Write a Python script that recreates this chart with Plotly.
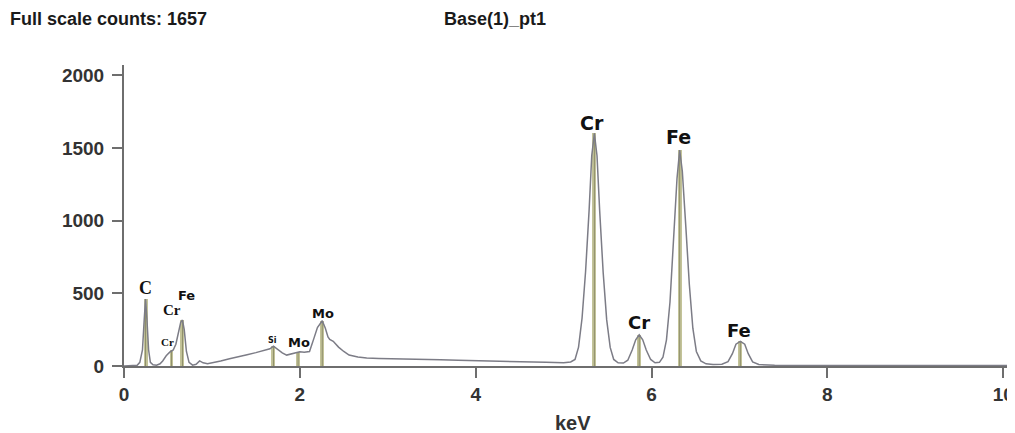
import plotly.graph_objects as go

# Spectrum (keV, counts)
energy = [0.00, 0.10, 0.15, 0.18, 0.21, 0.23, 0.245, 0.26, 0.28, 0.30, 0.33, 0.37,
          0.41, 0.44, 0.48, 0.52, 0.56, 0.59, 0.62, 0.645, 0.665, 0.685, 0.71, 0.74,
          0.78, 0.82, 0.86, 0.90, 0.95, 1.00, 1.10, 1.20, 1.30, 1.40, 1.50, 1.60,
          1.66, 1.70, 1.74, 1.80, 1.85, 1.90, 1.95, 2.00, 2.05, 2.11, 2.16, 2.20,
          2.255, 2.29, 2.32, 2.34, 2.38, 2.44, 2.50, 2.56, 2.66, 2.76, 2.90, 3.00,
          3.20, 3.40, 3.60, 3.80, 4.00, 4.20, 4.40, 4.60, 4.80, 5.00, 5.08, 5.13,
          5.17, 5.21, 5.25, 5.29, 5.32, 5.35, 5.38, 5.41, 5.45, 5.49, 5.53, 5.57,
          5.62, 5.68, 5.73, 5.78, 5.82, 5.86, 5.90, 5.94, 5.99, 6.04, 6.09, 6.13,
          6.17, 6.21, 6.25, 6.29, 6.32, 6.35, 6.39, 6.43, 6.47, 6.51, 6.56, 6.62,
          6.70, 6.80, 6.87, 6.92, 6.96, 7.01, 7.06, 7.10, 7.15, 7.22, 7.40, 7.80,
          8.50, 9.20, 10.10]
counts = [0, 0, 5, 25, 110, 320, 460, 330, 110, 25, 8, 6,
          15, 35, 70, 95, 110, 150, 230, 300, 316, 250, 100, 25,
          6, 12, 35, 22, 15, 20, 35, 50, 62, 78, 92, 105,
          118, 137, 118, 90, 75, 82, 92, 98, 95, 100, 190, 265,
          311, 260, 200, 182, 170, 130, 100, 75, 62, 55, 52, 50,
          48, 45, 43, 40, 38, 35, 33, 30, 25, 22, 28, 45,
          130, 330, 650, 1070, 1446, 1600, 1446, 1070, 643, 317, 128, 45,
          22, 20, 40, 110, 180, 215, 180, 110, 45, 22, 25, 60,
          180, 440, 860, 1290, 1485, 1340, 960, 560, 260, 100, 35, 15,
          10, 12, 30, 85, 150, 170, 150, 85, 28, 10, 6, 5,
          4, 3, 3]

# Element marker lines (keV, height)
line_energy = [0.245, 0.54, 0.665, 1.70, 1.98, 2.255, 5.35, 5.86, 6.32, 7.01]
line_height = [460, 110, 316, 137, 96, 311, 1600, 215, 1485, 170]

# Peak labels
label_text = ["C", "Cr", "Cr", "Fe", "Si", "Mo", "Mo", "Cr", "Cr", "Fe", "Fe"]
label_x = [0.24, 0.49, 0.545, 0.715, 1.69, 1.99, 2.265, 5.32, 5.86, 6.31, 6.99]
label_y = [536, 165, 385, 488, 172, 165, 364, 1670, 296, 1574, 247]
label_size = [18, 11, 15, 13, 8, 13, 13, 19, 18, 19, 18]
label_font = ["Liberation Serif", "Liberation Serif", "Liberation Serif", "DejaVu Sans",
              "DejaVu Sans", "DejaVu Sans", "DejaVu Sans", "DejaVu Sans",
              "DejaVu Sans", "DejaVu Sans", "DejaVu Sans"]

x_ticks = [0, 2, 4, 6, 8, 10]
y_ticks = [0, 500, 1000, 1500, 2000]

fig = go.Figure()

fig.add_trace(go.Bar(
    x=line_energy, y=line_height, width=0.045,
    marker=dict(color="#c3c399", line=dict(width=0)),
    hoverinfo="skip", showlegend=False,
))
for e, h in zip(line_energy, line_height):
    fig.add_trace(go.Scatter(
        x=[e, e], y=[0, h], mode="lines",
        line=dict(color="#8f8f6a", width=1),
        hoverinfo="skip", showlegend=False,
    ))

fig.add_trace(go.Scatter(
    x=energy, y=counts, mode="lines",
    line=dict(color="#7c7c86", width=1.5),
    showlegend=False,
))

for t, x, y, s, f in zip(label_text, label_x, label_y, label_size, label_font):
    fig.add_annotation(x=x, y=y, text=t, showarrow=False,
                       font=dict(family=f, size=s, color="#111111", weight="bold"),
                       xanchor="center", yanchor="middle")

fig.add_annotation(xref="paper", yref="paper", x=-0.1303, y=1.153,
                   text="Full scale counts: 1657", showarrow=False,
                   xanchor="left", yanchor="middle",
                   font=dict(family="Liberation Sans", size=18, color="#1a1a1a", weight="bold"))
fig.add_annotation(xref="paper", yref="paper", x=0.3584, y=1.153,
                   text="Base(1)_pt1", showarrow=False,
                   xanchor="left", yanchor="middle",
                   font=dict(family="Liberation Sans", size=18, color="#1a1a1a", weight="bold"))
fig.add_annotation(xref="paper", yref="paper", x=0.506, y=-0.19,
                   text="keV", showarrow=False,
                   xanchor="center", yanchor="middle",
                   font=dict(family="Liberation Sans", size=20, color="#333333", weight="bold"))

# figure sits 8px in from the page's top-left corner (default body margin);
# its right part runs past the window edge, like the reference's cut "10"
fig.update_layout(
    width=1015, height=425,
    margin=dict(l=116, r=9, t=57, b=67),
    paper_bgcolor="white", plot_bgcolor="white",
    bargap=0,
    xaxis=dict(range=[0, 10.1], tickvals=x_ticks, ticktext=[str(v) for v in x_ticks],
               showgrid=False, zeroline=False, showline=True, linecolor="#6e6e6e", linewidth=2,
               ticks="outside", ticklen=10, tickwidth=2, tickcolor="#6e6e6e",
               tickfont=dict(family="Liberation Sans", size=19, color="#333333", weight="bold")),
    yaxis=dict(range=[0, 2070], tickvals=y_ticks, ticktext=[str(v) for v in y_ticks],
               showgrid=False, zeroline=False, showline=True, linecolor="#6e6e6e", linewidth=2,
               ticks="outside", ticklen=10, tickwidth=2, tickcolor="#6e6e6e",
               ticklabelstandoff=4,
               tickfont=dict(family="Liberation Sans", size=19, color="#333333", weight="bold")),
)

fig.write_html("out.html")
